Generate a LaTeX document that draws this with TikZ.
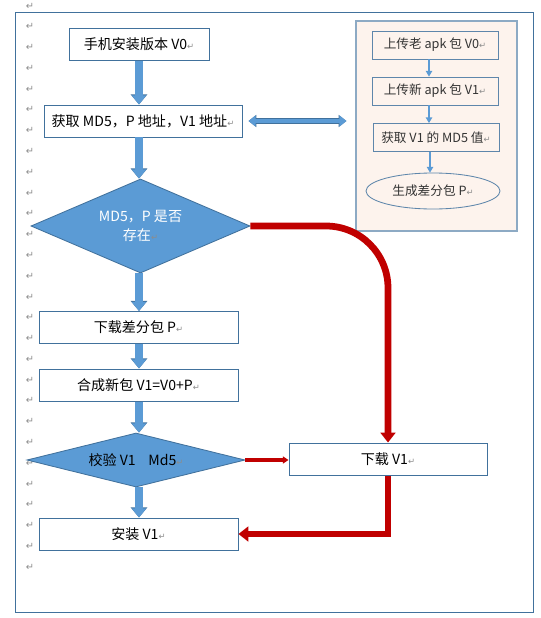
\documentclass[tikz,border=0pt]{standalone}
\usepackage{fontspec}
\setmainfont{Noto Sans CJK SC}
\newfontfamily\markfont{DejaVu Sans}
\usetikzlibrary{positioning}
\usetikzlibrary{arrows.meta,shapes.geometric}
\definecolor{flowblue}{HTML}{5B9BD5}
\definecolor{flowedge}{HTML}{41719C}
\definecolor{flowred}{HTML}{C00000}
\definecolor{panelfill}{HTML}{FDF3ED}
\definecolor{markgray}{HTML}{8C8C8C}
\newcommand{\parmark}{{\markfont\color{markgray}\fontsize{6}{6}\selectfont ↵}}
\tikzstyle{frame}=[draw=flowedge,line width=0.7pt]
\tikzstyle{marknode}=[inner sep=0pt,text=markgray,font=\markfont\fontsize{7}{7}\selectfont]
\tikzstyle{stepbox}=[rectangle,draw=flowedge,fill=white,line width=0.7pt,inner sep=0pt,minimum height=0.8cm,font=\fontsize{10}{12}\selectfont]
\tikzstyle{decision}=[diamond,draw=flowedge,fill=flowblue,line width=0.6pt,inner sep=0pt,align=center,font=\fontsize{10}{14}\selectfont]
\tikzstyle{panelbox}=[rectangle,draw=flowedge!60,fill=panelfill,line width=0.8pt]
\tikzstyle{panelstep}=[rectangle,draw=flowedge!85,fill=panelfill,line width=0.6pt,inner sep=0pt,minimum height=0.7cm,text=black!80,font=\fontsize{9}{11}\selectfont]
\tikzstyle{blockarrow}=[draw=flowblue,line width=5pt,-{Triangle[width=10pt,length=6.5pt]},preaction={draw=flowedge,line width=6pt,-{Triangle[width=11.5pt,length=7.2pt]}}]
\tikzstyle{blockdouble}=[draw=flowblue,line width=3pt,{Triangle[width=7.5pt,length=5pt]}-{Triangle[width=7.5pt,length=5pt]},preaction={draw=flowedge,line width=3.8pt,{Triangle[width=8.5pt,length=5.6pt]}-{Triangle[width=8.5pt,length=5.6pt]}}]
\tikzstyle{redthick}=[draw=flowred,line width=4.8pt,line join=miter,-{Triangle[width=10.5pt,length=7pt]}]
\tikzstyle{redthin}=[draw=flowred,line width=2.2pt,-{Triangle[width=5pt,length=4pt]}]
\tikzstyle{thinarrow}=[draw=flowblue,line width=0.8pt,-{Triangle[width=4.5pt,length=4pt]}]

\begin{document}
\begin{tikzpicture}[x=0.025cm,y=-0.025cm]
    \useasboundingbox (0,0) rectangle (540,618);
    \draw[frame] (15,12.7) rectangle (533,612);

    \foreach \i in {0,...,27}
        \node[marknode] (mark\i) at (30,{6+\i*20.78}) {↵};

    % server side
    \node[panelbox,minimum width=4.025cm,minimum height=5.25cm] (panel) at (436.5,126) {};

    \foreach \pos/\name/\label in {{(435,45)/up0/上传老 apk 包 V0}, {(435,91)/up1/上传新 apk 包 V1}, {(436,137.5)/md5/获取 V1 的 MD5 值}}
        \node[panelstep,minimum width=3.15cm] (\name) at \pos {\label\parmark};
    \node[panelstep,ellipse,minimum width=3.35cm,minimum height=0.9cm] (patch) at (433,191) {生成差分包 P\parmark};

    \foreach \source/\dest in {up0/up1, up1/md5, md5/patch}
        \draw[thinarrow] ([xshift=-0.15cm]\source.south) -- ([xshift=-0.15cm]\source.south |- \dest.north);

    % client side
    \coordinate (spine) at (139,0);
    \foreach \pos/\name/\w/\label in {{(139,44.5)/install0/140/手机安装版本 V0}, {(143,121)/fetch/198/获取 MD5，P 地址，V1 地址}, {(138.5,327.5)/getpatch/199/下载差分包 P}, {(138.5,385)/merge/199/合成新包 V1=V0+P}, {(138.5,534)/install1/199/安装 V1}, {(388,459)/getfull/198/下载 V1}}
        \node[stepbox,minimum width=\w*0.025cm] (\name) at \pos {\label\parmark};

    \node[decision,aspect=2.33,minimum width=5.475cm,minimum height=2.35cm,text=white] (exists) at (140.5,226) {MD5，P 是否\\存在\parmark};
    \node[decision,aspect=4.04,minimum width=5.45cm,minimum height=1.35cm] (verify) at (136,460) {校验 V1\hspace{9pt}Md5\parmark};

    \foreach \source/\dest in {install0/fetch, fetch/exists, exists/getpatch, getpatch/merge, merge/verify, verify/install1}
        \path[blockarrow] (spine |- \source.south) -- (spine |- \dest.north);

    \path[blockdouble,shorten <=4.3pt,shorten >=6.4pt] (fetch.east) -- (fetch.east -| panel.west);

    \path[redthick,rounded corners=1.55cm] (exists.east) -- (exists.east -| getfull.north) -- (getfull.north);
    \path[redthick] (getfull.south) |- (install1.east);
    \path[redthin] (verify.east) -- (verify.east -| getfull.west);

\end{tikzpicture}
\end{document}
